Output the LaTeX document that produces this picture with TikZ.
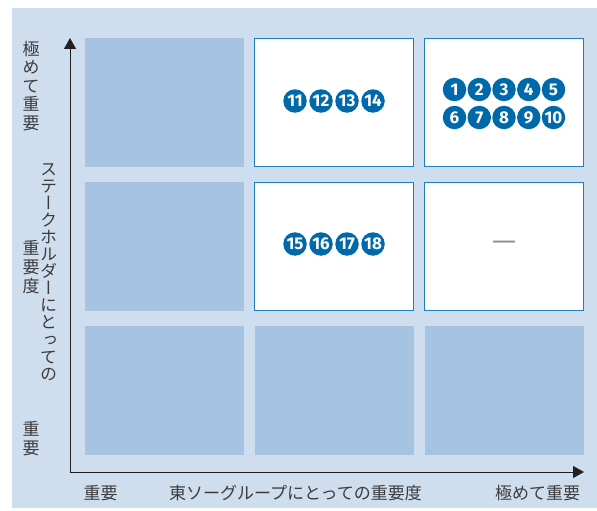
\documentclass[tikz,border=0pt]{standalone}
\usepackage{fontspec}
\usetikzlibrary{arrows.meta}
\newfontfamily\jp{Noto Sans CJK JP}
\newfontfamily\jpv[RawFeature=+vert]{Noto Sans CJK JP}
\newfontfamily\numfont{Fira Sans}
\newfontfamily\dashfont{Noto Sans}
\definecolor{bgblue}{HTML}{CFDEEE}
\definecolor{cellblue}{HTML}{A6C3E1}
\definecolor{edgeblue}{HTML}{1F7EC1}
\definecolor{numblue}{HTML}{0069AA}
\definecolor{labelgray}{HTML}{3C3C3C}
\definecolor{axisblack}{HTML}{231F20}
\definecolor{dashgray}{HTML}{8A8A8A}
\begin{document}
\begin{tikzpicture}[x=1pt,y=-1pt,
  darkcell/.style={fill=cellblue,draw=none,minimum width=159pt,minimum height=129pt,inner sep=0pt},
  whitecell/.style={fill=white,draw=edgeblue,line width=1.4pt,minimum width=158.6pt,minimum height=127.6pt,inner sep=0pt},
  num/.style={circle,fill=numblue,text=white,minimum size=23.5pt,inner sep=0pt,font=\numfont\bfseries\fontsize{17}{17}\selectfont},
  vlabel/.style={text=labelgray,align=center,inner sep=0pt,anchor=north},
  hlabel/.style={text=labelgray,inner sep=0pt,font=\jp\fontsize{17}{17}\selectfont},
  axis/.style={draw=axisblack,line width=0.9pt,-{Triangle[width=12pt,length=11pt]}}
]
\useasboundingbox (0,0) rectangle (597,511);
\fill[bgblue] (12,8) rectangle (597,508);
% cells
\node[darkcell]  (c11) at (164.5,102.5) {};
\node[whitecell] (c12) at (334,102.5) {};
\node[whitecell] (c13) at (504,102.5) {};
\node[darkcell]  (c21) at (164.5,246.5) {};
\node[whitecell] (c22) at (334,246.5) {};
\node[whitecell] (c23) at (504,246.5) {};
\node[darkcell]  (c31) at (164.5,390.5) {};
\node[darkcell]  (c32) at (334,390.5) {};
\node[darkcell]  (c33) at (504,390.5) {};
% axes
\coordinate (origin) at (70,472);
\coordinate (ytop) at (70,38);
\coordinate (xend) at (584,472);
\draw[axis] (origin) -- (ytop);
\draw[axis] (origin) -- (xend);
% numbers
\foreach \n/\x in {1/454.5,2/479.25,3/504,4/528.75,5/553.5}
  \node[num] (n\n) at (\x,89.5) {\n};
\foreach \n/\x in {6/454.5,7/479.25,8/504,9/528.75,10/553.5}
  \node[num] (n\n) at (\x,117.5) {\n};
\foreach \n/\x in {11/295,12/321,13/347,14/373}
  \node[num] (n\n) at (\x,101) {\n};
\foreach \n/\x in {15/295,16/321,17/347,18/373}
  \node[num] (n\n) at (\x,244) {\n};
\node[text=dashgray,inner sep=0pt,font=\dashfont\fontsize{24}{24}\selectfont] (dash) at (504,245) {—};
% y-axis labels
\node[vlabel,font=\jpv\fontsize{17}{18.5}\selectfont] (ymax) at (31,41) {極\\め\\て\\重\\要};
\node[vlabel,font=\jpv\fontsize{17}{17.1}\selectfont] (ytitle) at (48.5,163) {ス\\テ\\ー\\ク\\ホ\\ル\\ダ\\ー\\に\\と\\っ\\て\\の};
\node[vlabel,font=\jpv\fontsize{17}{19}\selectfont] (ytitle2) at (31,240) {重\\要\\度};
\node[vlabel,font=\jpv\fontsize{17}{19}\selectfont] (ymin) at (31,421) {重\\要};
% x-axis labels
\node[hlabel] (xmin) at (100.5,493) {重要};
\node[hlabel] (xtitle) at (295.5,493) {東ソーグループにとっての重要度};
\node[hlabel] (xmax) at (537.5,493) {極めて重要};
\end{tikzpicture}
\end{document}
